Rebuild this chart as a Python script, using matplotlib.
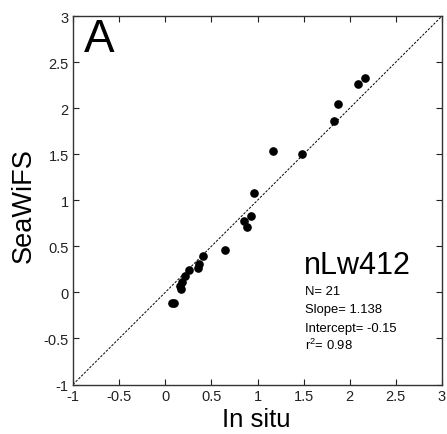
import matplotlib
matplotlib.use('Agg')
from matplotlib import pyplot as plt

in_situ = [2.16, 2.09, 1.87, 1.83, 1.17, 1.48, 0.96, 0.93, 0.85, 0.89, 0.65,
           0.41, 0.37, 0.35, 0.26, 0.21, 0.18, 0.16, 0.17, 0.07, 0.10]
seawifs = [2.33, 2.26, 2.05, 1.86, 1.53, 1.50, 1.08, 0.83, 0.77, 0.71, 0.46,
           0.40, 0.31, 0.27, 0.24, 0.18, 0.11, 0.07, 0.04, -0.12, -0.12]
ticks = [-1, -0.5, 0, 0.5, 1, 1.5, 2, 2.5, 3]
tick_labels = ['-1', '-0.5', '0', '0.5', '1', '1.5', '2', '2.5', '3']
stats = ['N= 21', 'Slope= 1.138', 'Intercept= -0.15', 'r$^2$= 0.98']

plt.rcParams['font.family'] = 'Liberation Sans'
plt.rcParams['mathtext.fontset'] = 'custom'
plt.rcParams['mathtext.rm'] = 'Liberation Sans'

fig = plt.figure(figsize=(4.47, 4.35), dpi=100)
ax = fig.add_axes([73 / 447, 49.5 / 435, 369 / 447, 368.5 / 435])

ax.plot([-1, 3], [-1, 3], color='k', linestyle=(0, (2.5, 1.5)), linewidth=0.7)
ax.plot(in_situ, seawifs, 'o', color='k', markersize=5.2)

ax.set_xlim(-1, 3)
ax.set_ylim(-1, 3)
ax.set_xticks(ticks)
ax.set_xticklabels(tick_labels)
ax.set_yticks(ticks)
ax.set_yticklabels(tick_labels)
ax.tick_params(direction='in', length=4, width=0.8, labelsize=10.5,
               top=True, right=True, pad=3, colors='#222222')
for s in ax.spines.values():
    s.set_linewidth(1.0)
    s.set_color('#333333')

# axis labels placed by hand to match the original layout
fig.text(256 / 447, 1 - 427 / 435, 'In situ', fontsize=18.5, ha='center', va='baseline')
fig.text(24 / 447, 1 - 206 / 435, 'SeaWiFS', fontsize=19.5, ha='center', va='center',
         rotation=90)

fig.text(84 / 447, 1 - 18 / 435, 'A', fontsize=33, ha='left', va='top')
fig.text(304 / 447, 1 - 274 / 435, 'nLw412', fontsize=22, ha='left', va='baseline')
for i, line in enumerate(stats):
    fig.text(305 / 447, 1 - (295 + 18.3 * i) / 435, line, fontsize=9.4,
             ha='left', va='baseline')

plt.savefig('out.png', dpi=100)
plt.close()
